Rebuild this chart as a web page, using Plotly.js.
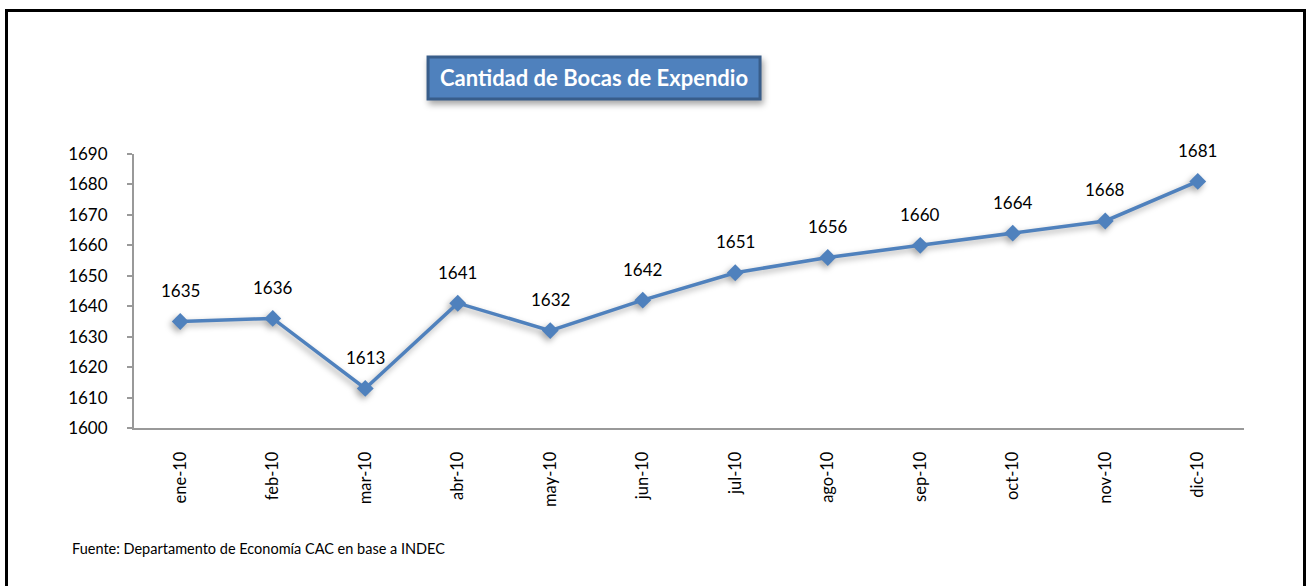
<!DOCTYPE html>
<html>
<head>
<meta charset="utf-8">
<script src="https://cdn.plot.ly/plotly-3.0.1.min.js"></script>
<style>
  html, body { margin: 0; padding: 0; background: #fff; }
  #wrap { position: relative; width: 1310px; height: 586px; overflow: hidden; }
  #chart { position: absolute; left: 0; top: 0; width: 1310px; height: 586px; }
  #frame { position: absolute; left: 5px; top: 9px; width: 1295px; height: 600px;
           border: 3px solid #000; border-bottom: none; pointer-events: none; }
  .scatterlayer .trace { filter: drop-shadow(-2px 3px 3px rgba(0,0,0,0.35)); }
  .shapelayer path:first-child { filter: drop-shadow(2px 4px 3px rgba(0,0,0,0.35)); }
</style>
</head>
<body>
<div id="wrap">
  <div id="chart"></div>
  <div id="frame"></div>
</div>
<script>
const months = ["ene-10","feb-10","mar-10","abr-10","may-10","jun-10","jul-10","ago-10","sep-10","oct-10","nov-10","dic-10"];
const bocas = [1635, 1636, 1613, 1641, 1632, 1642, 1651, 1656, 1660, 1664, 1668, 1681];
const yTicks = [1600, 1610, 1620, 1630, 1640, 1650, 1660, 1670, 1680, 1690];
const chartTitle = "Cantidad de Bocas de Expendio";
const sourceNote = "Fuente: Departamento de Economía CAC en base a INDEC";

const FONT = "Lato, 'Open Sans', sans-serif";
const BLUE = "#4F81BD";

const trace = {
  x: months,
  y: bocas,
  type: "scatter",
  mode: "lines+markers",
  line: { color: BLUE, width: 3.5 },
  marker: { symbol: "diamond", size: 13, color: BLUE, line: { width: 0 } },
  hoverinfo: "x+y",
  showlegend: false
};

const labelAnns = months.map((m, i) => ({
  x: m, y: bocas[i], xref: "x", yref: "y",
  text: String(bocas[i]), showarrow: false,
  yshift: 31, font: { family: FONT, size: 17, color: "#000" }
}));

const layout = {
  width: 1310, height: 586,
  margin: { l: 134, r: 66, t: 154, b: 158, autoexpand: false },
  paper_bgcolor: "#fff", plot_bgcolor: "#fff",
  font: { family: FONT, color: "#000" },
  xaxis: {
    type: "category",
    range: [-0.5, 11.5],
    showgrid: false, zeroline: false,
    showline: true, linecolor: "#999", linewidth: 2,
    ticks: "", tickangle: -90,
    ticklabelstandoff: 15,
    tickfont: { family: FONT, size: 16.5, color: "#000" },
    fixedrange: true
  },
  yaxis: {
    range: [1600, 1690],
    tickvals: yTicks,
    ticktext: yTicks.map(String),
    showgrid: false, zeroline: false,
    showline: true, linecolor: "#999", linewidth: 2,
    ticks: "outside", ticklen: 5, tickwidth: 2, tickcolor: "#999",
    ticklabelstandoff: 16,
    tickfont: { family: FONT, size: 17, color: "#000" },
    fixedrange: true
  },
  shapes: [
    {
      type: "rect", xref: "paper", yref: "paper",
      x0: 0.2649, x1: 0.5640, y0: 1.2007, y1: 1.354,
      fillcolor: BLUE, line: { color: "#385D8A", width: 3 }
    }
  ],
  annotations: labelAnns.concat([
    {
      xref: "paper", yref: "paper", x: 0.4144, y: 1.2774,
      xanchor: "center", yanchor: "middle",
      text: "<b>" + chartTitle + "</b>", showarrow: false,
      font: { family: FONT, size: 22, color: "#fff" }
    },
    {
      xref: "paper", yref: "paper", x: -0.058, y: -0.438,
      xanchor: "left", yanchor: "middle",
      text: sourceNote, showarrow: false,
      font: { family: FONT, size: 14.5, color: "#000" }
    }
  ])
};

Plotly.newPlot("chart", [trace], layout, { displayModeBar: false, staticPlot: true });
</script>
</body>
</html>
